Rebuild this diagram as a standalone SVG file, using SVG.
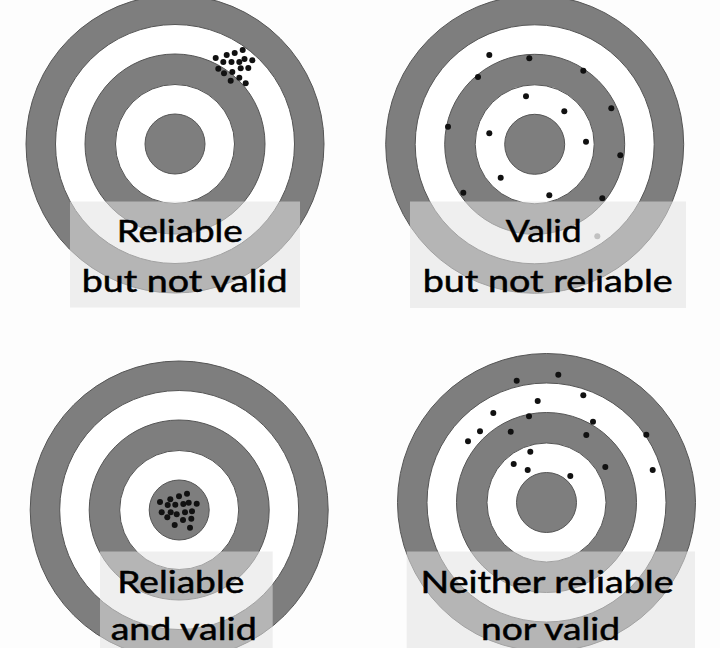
<svg xmlns="http://www.w3.org/2000/svg" xmlns:xlink="http://www.w3.org/1999/xlink" width="720" height="648" viewBox="0 0 720 648">
<style>
.g{fill:#7e7e7e;stroke:#555;stroke-width:1}
.w{fill:#ffffff;stroke:#555;stroke-width:1}
.d{fill:#111}
.box{fill:#e2e2e2;opacity:0.55}
.t{font-family:Lato,"Open Sans",sans-serif;font-size:30.5px;fill:#000;stroke:#000;stroke-width:0.5;text-anchor:middle}
</style>
<defs>
<g id="target">
<circle class="g" r="149"/>
<circle class="w" r="119.5"/>
<circle class="g" r="90"/>
<circle class="w" r="59.5"/>
<circle class="g" r="30"/>
</g>
</defs>
<rect width="720" height="648" fill="#fdfdfd"/>

<g id="t1">
<use xlink:href="#target" href="#target" x="175" y="144"/>
<g class="d">
<circle cx="215.7" cy="58" r="3"/><circle cx="226.7" cy="55" r="3"/><circle cx="234.7" cy="53" r="3"/><circle cx="242.7" cy="50" r="3"/>
<circle cx="223.3" cy="62" r="3"/><circle cx="231.5" cy="62" r="3"/><circle cx="239.3" cy="62" r="3"/><circle cx="244.5" cy="59" r="3"/><circle cx="252.3" cy="60.3" r="3"/>
<circle cx="218.3" cy="68.7" r="3"/><circle cx="224" cy="73.3" r="3"/><circle cx="232.3" cy="72" r="3"/><circle cx="240.7" cy="68.3" r="3"/><circle cx="248.3" cy="68" r="3"/>
<circle cx="230.7" cy="80.7" r="3"/><circle cx="239.3" cy="77.7" r="3"/><circle cx="245.7" cy="83.3" r="3"/>
</g>
<rect class="box" x="70" y="201.5" width="230" height="106"/>
<text class="t" x="179.7" y="241.7" textLength="126" lengthAdjust="spacingAndGlyphs">Reliable</text>
<text class="t" x="184.7" y="291.7" textLength="206" lengthAdjust="spacingAndGlyphs">but not valid</text>
</g>

<g id="t2">
<use xlink:href="#target" href="#target" x="534.7" y="144.3"/>
<g class="d">
<circle cx="489.3" cy="55" r="3"/><circle cx="529.3" cy="58.3" r="3"/><circle cx="583.3" cy="70.7" r="3"/><circle cx="478" cy="77" r="3"/>
<circle cx="526" cy="96.3" r="3"/><circle cx="564.3" cy="111.3" r="3"/><circle cx="611.3" cy="108.3" r="3"/><circle cx="448" cy="126.7" r="3"/>
<circle cx="489.3" cy="133.3" r="3"/><circle cx="586" cy="141.7" r="3"/><circle cx="620.3" cy="155.3" r="3"/><circle cx="500.7" cy="177.7" r="3"/>
<circle cx="463.3" cy="192.7" r="3"/><circle cx="549.3" cy="195.3" r="3"/><circle cx="602.3" cy="198.3" r="3"/>
</g>
<circle cx="597.3" cy="236.3" r="3" fill="#999"/>
<rect class="box" x="410" y="201.5" width="276" height="106.5"/>
<text class="t" x="543.8" y="241.7" textLength="76" lengthAdjust="spacingAndGlyphs">Valid</text>
<text class="t" x="547.7" y="291.7" textLength="250" lengthAdjust="spacingAndGlyphs">but not reliable</text>
</g>

<g id="t3">
<use xlink:href="#target" href="#target" x="179.2" y="510"/>
<g class="d">
<circle cx="160" cy="502" r="3"/><circle cx="170.3" cy="499.3" r="3"/><circle cx="179" cy="496.3" r="3"/><circle cx="187" cy="493.7" r="3"/>
<circle cx="167.7" cy="505" r="3"/><circle cx="175.3" cy="504.7" r="3"/><circle cx="183.3" cy="504" r="3"/><circle cx="188.7" cy="502.7" r="3"/><circle cx="196.7" cy="503.7" r="3"/>
<circle cx="161.7" cy="512.3" r="3"/><circle cx="170.7" cy="512.3" r="3"/><circle cx="176.7" cy="514.3" r="3"/><circle cx="185" cy="512.3" r="3"/><circle cx="192" cy="511.3" r="3"/>
<circle cx="167.3" cy="517.3" r="3"/><circle cx="183" cy="520" r="3"/><circle cx="191.3" cy="518.7" r="3"/><circle cx="174.7" cy="525" r="3"/><circle cx="190" cy="527.7" r="3"/>
</g>
<rect class="box" x="100" y="551.5" width="172.7" height="97"/>
<text class="t" x="180.8" y="593.3" textLength="127" lengthAdjust="spacingAndGlyphs">Reliable</text>
<text class="t" x="183.7" y="640" textLength="146" lengthAdjust="spacingAndGlyphs">and valid</text>
</g>

<g id="t4">
<use xlink:href="#target" href="#target" x="546.5" y="502.5"/>
<g class="d">
<circle cx="516.7" cy="380.7" r="3"/><circle cx="558.3" cy="374.7" r="3"/><circle cx="583.3" cy="395.3" r="3"/><circle cx="537.7" cy="401" r="3"/>
<circle cx="493.3" cy="413" r="3"/><circle cx="529" cy="416.3" r="3"/><circle cx="593" cy="421.7" r="3"/><circle cx="480" cy="431.3" r="3"/>
<circle cx="510.7" cy="431.7" r="3"/><circle cx="586.3" cy="435" r="3"/><circle cx="646.3" cy="434.7" r="3"/><circle cx="468" cy="441.3" r="3"/>
<circle cx="530.3" cy="451.7" r="3"/><circle cx="513.7" cy="464" r="3"/><circle cx="527.7" cy="470" r="3"/><circle cx="605.3" cy="467" r="3"/>
<circle cx="570.3" cy="476" r="3"/><circle cx="652.7" cy="470" r="3"/>
</g>
<rect class="box" x="406.7" y="551.5" width="288.3" height="97"/>
<text class="t" x="547" y="593.3" textLength="253" lengthAdjust="spacingAndGlyphs">Neither reliable</text>
<text class="t" x="550.5" y="640" textLength="139" lengthAdjust="spacingAndGlyphs">nor valid</text>
</g>
</svg>
